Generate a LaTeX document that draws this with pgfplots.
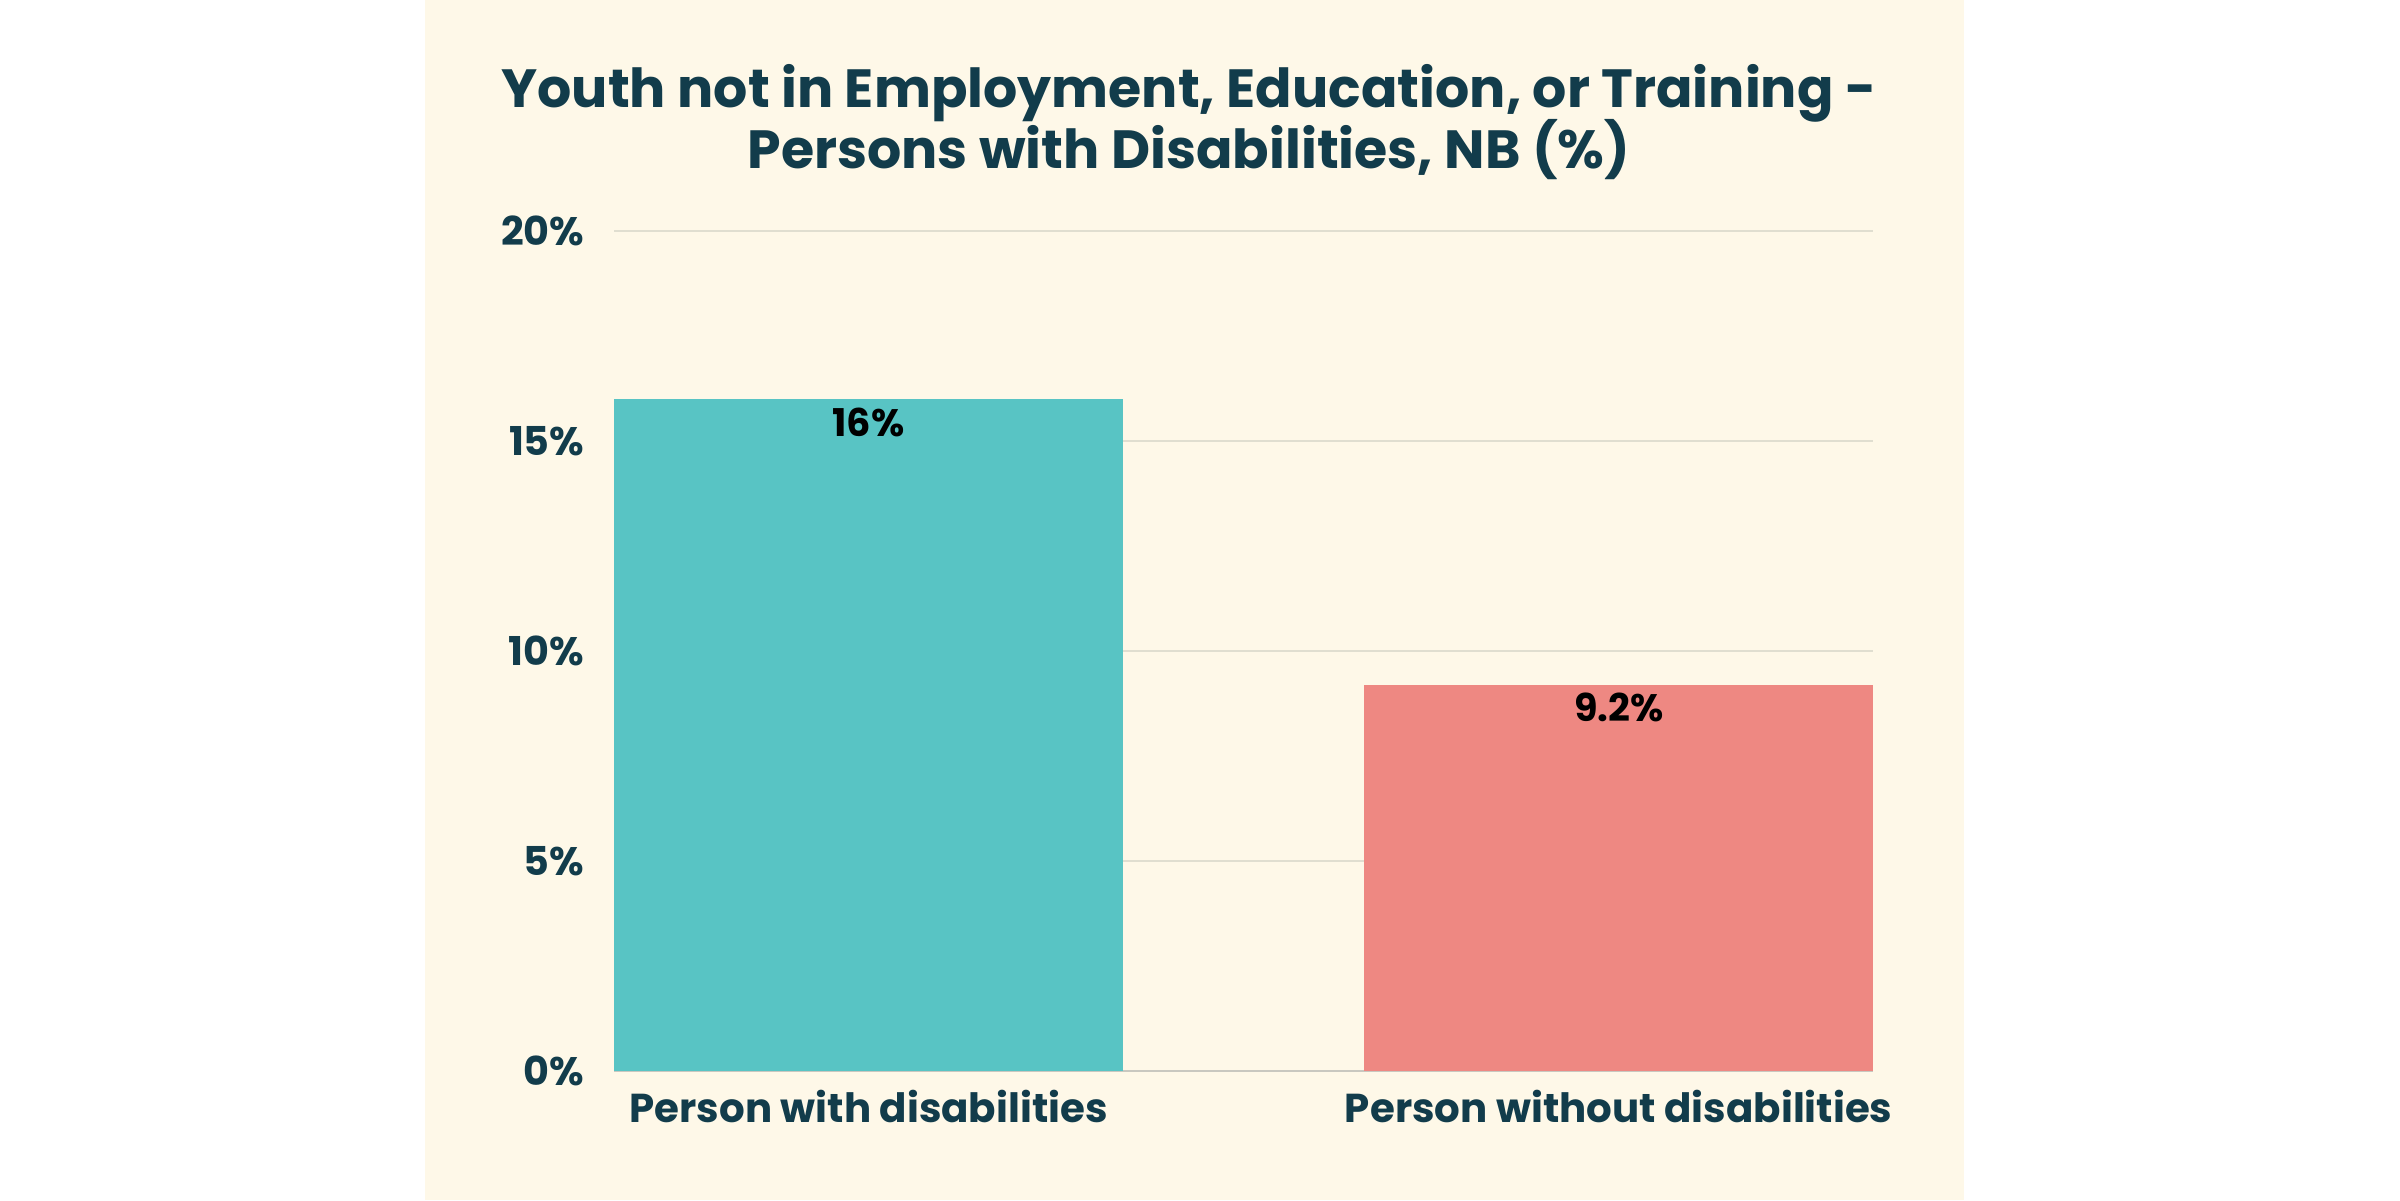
\documentclass[border=0pt]{standalone}
\usepackage{pgfplots}
\pgfplotsset{compat=1.18}
\usepackage{fontspec}
\setmainfont{Poppins}
\definecolor{ink}{HTML}{123C4B}
\definecolor{cream}{HTML}{FEF8E8}
\definecolor{barA}{HTML}{58C4C4}
\definecolor{barB}{HTML}{EE8882}
\definecolor{gridc}{HTML}{E0DED0}
\definecolor{basec}{HTML}{C9C8C0}
\begin{document}
\begin{tikzpicture}[x=1bp,y=1bp]
\fill[white] (0,0) rectangle (800,400);
\fill[cream] (141.7,0) rectangle (654.7,400);
\node[anchor=base,text=ink,font=\bfseries\fontsize{18}{22}\selectfont,inner sep=0] at (396.3,364.3) {Youth not in Employment, Education, or Training -};
\node[anchor=base,text=ink,font=\bfseries\fontsize{18}{22}\selectfont,inner sep=0] at (396.3,344) {Persons with Disabilities, NB (\%)};
\begin{axis}[
  at={(204.7bp,43bp)}, anchor=south west,
  scale only axis, width=419.7bp, height=280bp,
  xmin=-0.3393, xmax=1.3393, ymin=0, ymax=20,
  axis line style={draw=none},
  major tick length=0pt,
  xtick={0,1}, xticklabels={Person with disabilities, Person without disabilities},
  ytick={0,5,10,15,20},
  ymajorgrids, grid style={gridc, line width=0.7bp},
  extra y ticks={0}, extra y tick labels={},
  extra y tick style={grid style={basec,line width=0.9bp}},
  /pgf/number format/assume math mode=true,
  yticklabel={\pgfmathprintnumber{\tick}\%},
  yticklabel style={anchor=east, inner sep=0pt, xshift=-9.7bp, text=ink, font=\bfseries\fontsize{13.3}{16}\selectfont},
  xticklabel style={anchor=base, inner sep=0pt, yshift=-17bp, text=ink, font=\bfseries\fontsize{13.5}{16}\selectfont},
  ybar, bar width=0.6787,
  nodes near coords={\pgfmathprintnumber{\pgfplotspointmeta}\%},
  nodes near coords style={anchor=base, yshift=-12.4bp, inner sep=0pt, text=black, font=\bfseries\fontsize{12.8}{15}\selectfont},
]
\addplot[fill=barA, draw=none, bar shift=0pt] coordinates {(0,16)};
\addplot[fill=barB, draw=none, bar shift=0pt] coordinates {(1,9.2)};
\end{axis}
\end{tikzpicture}
\end{document}
